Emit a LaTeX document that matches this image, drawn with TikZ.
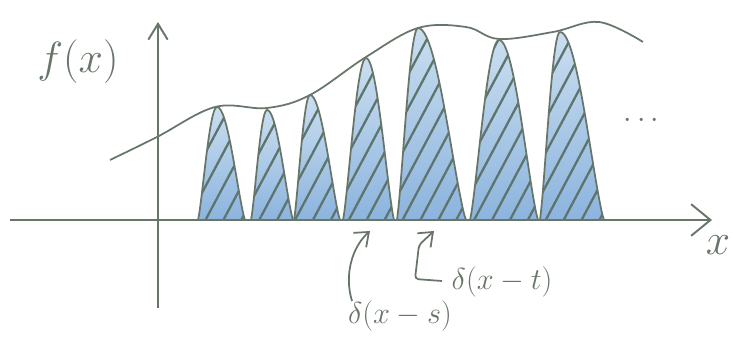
\documentclass[tikz,border=0pt]{standalone}
\usepackage{amsmath,amssymb}
\usepackage{xcolor}
\usetikzlibrary{arrows.meta,calc,patterns.meta}

\definecolor{pencil}{RGB}{104,118,106}
\definecolor{hatch}{RGB}{92,116,108}
\definecolor{bluelight}{RGB}{202,222,240}
\definecolor{bluedark}{RGB}{140,180,222}

\tikzset{
  axis/.style={pencil, line width=1.1pt},
  pointer/.style={pencil, line width=1pt, -{Straight Barb[length=7pt,width=11pt]}},
  bump/.style={preaction={top color=bluelight, bottom color=bluedark},
    pattern={Lines[angle=62,distance=9pt,line width=1.3pt]}, pattern color=hatch,
    draw=pencil, line width=1pt, line join=round},
  label/.style={pencil, inner sep=1pt}
}

\begin{document}
\begin{tikzpicture}[x=0.02cm, y=0.02cm]
    \useasboundingbox (0,0) rectangle (733,337);
    % the spikes under f, each one a narrow bump
    \foreach \cx/\h/\wl/\wr in {217/113/19/28, 267/110/16/26, 310/125/16/30,
        366/162/23/28, 418/192/21/48, 499/180/29/39, 560/188/20/44}
      \path[bump] plot[domain={\cx-\wl}:{\cx+\wr}, samples=41, smooth]
        (\x, {117+\h*pow(max(cos(90*(\x-\cx)/((\x<\cx) ? \wl : \wr)),0.0001),1.25)}) -- cycle;
    % axes
    \draw[axis, -{Straight Barb[length=11pt,width=18pt]}] (10,117) -- (712,117);
    \draw[axis, -{Straight Barb[length=9pt,width=11pt]}] (158,29) -- (158,315);
    \node[label, font=\fontsize{24}{28}\selectfont] (fx) at (78,275) {$f(x)$};
    \node[label, font=\fontsize{24}{28}\selectfont] (xx) at (718,92) {$x$};
    % f itself
    \draw[pencil, line width=1pt] plot[smooth, tension=0.6] coordinates {
      (110,177) (157,200) (215,230) (267,229) (310,242) (366,280)
      (418,309) (466,310) (499,298) (553,305) (599,315) (643,295)};
    \node[label, font=\fontsize{17}{20}\selectfont] (dots) at (644,216) {$\cdots$};
    % the two spikes that are named
    \node[label, font=\fontsize{18}{21}\selectfont] (ls) at (400,21) {$\delta(x-s)$};
    \node[label, font=\fontsize{18}{21}\selectfont] (lt) at (502,55) {$\delta(x-t)$};
    \coordinate (sfrom) at (352,36);
    \coordinate (sto) at (370,106);
    \coordinate (tfrom) at (442,56);
    \coordinate (tto) at (434,106);
    \draw[pointer] (sfrom) .. controls (344,62) and (352,90) .. (sto);
    \draw[pointer, rounded corners=2pt] (tfrom) -- (415,58) -- (419,92) -- (tto);
\end{tikzpicture}
\end{document}
